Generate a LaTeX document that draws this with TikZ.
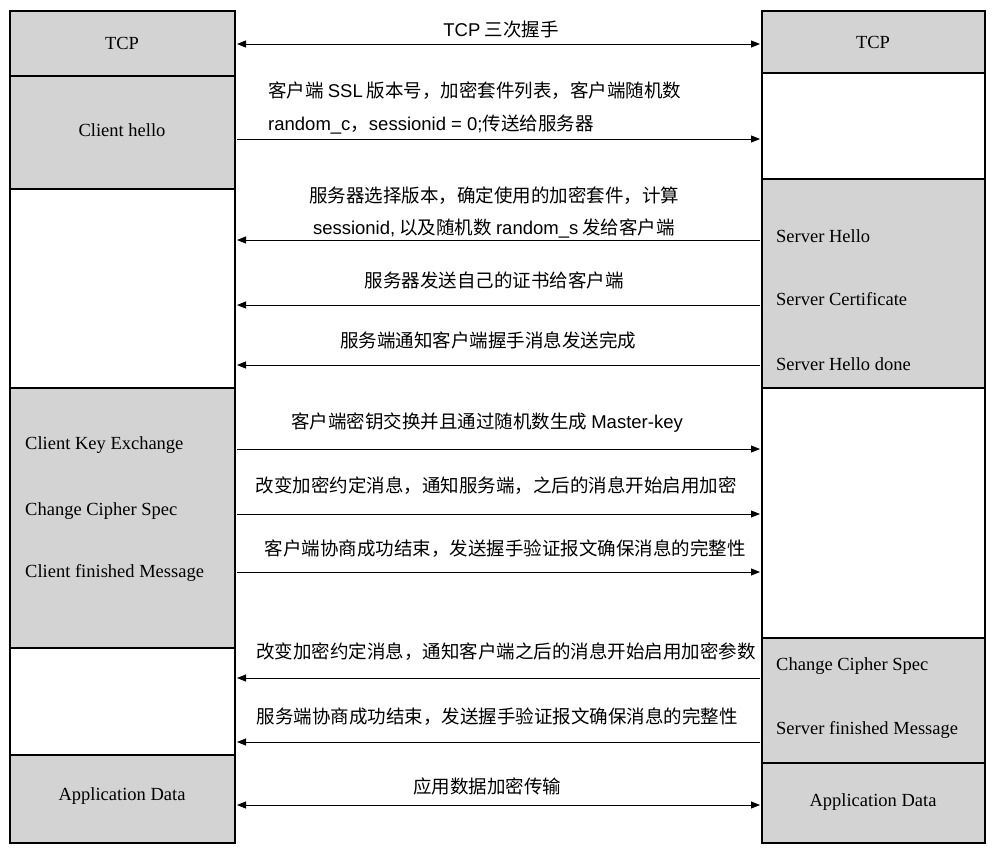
\documentclass[tikz,border=0pt]{standalone}
\usepackage{fontspec}
\setmainfont{Liberation Serif}
\newfontfamily\cjk{Noto Sans CJK SC}
\newfontfamily\lsans{Liberation Sans}
\usetikzlibrary{arrows.meta}
\definecolor{boxgray}{RGB}{212,211,212}
\begin{document}
\begin{tikzpicture}[x=1pt,y=-1pt,
  gbox/.style={draw=black,line width=1.2pt,fill=boxgray},
  wbox/.style={draw=black,line width=1.2pt,fill=white},
  msg/.style={line width=0.9pt,-{Triangle[length=9pt,width=7pt]}},
  bmsg/.style={line width=0.9pt,{Triangle[length=9pt,width=7pt]}-{Triangle[length=9pt,width=7pt]}},
  lbl/.style={font=\fontsize{18.5}{22}\selectfont\cjk,inner sep=0pt},
  en/.style={font=\fontsize{18.5}{22}\selectfont,inner sep=0pt}]
\useasboundingbox[fill=white] (0,0) rectangle (1000,855);
% left column
\draw[gbox] (10,11) rectangle (235,76);
\draw[gbox] (10,76) rectangle (235,189);
\draw[wbox] (10,189) rectangle (235,388);
\draw[gbox] (10,388) rectangle (235,648);
\draw[wbox] (10,648) rectangle (235,755);
\draw[gbox] (10,755) rectangle (235,843);
% right column
\draw[gbox] (762,11) rectangle (985,73);
\draw[wbox] (762,73) rectangle (985,179);
\draw[gbox] (762,179) rectangle (985,388);
\draw[wbox] (762,388) rectangle (985,638);
\draw[gbox] (762,638) rectangle (985,763);
\draw[gbox] (762,763) rectangle (985,843);
% left labels
\node[en] (ltcp) at (122,43) {TCP};
\node[en] (lch) at (122,130) {Client hello};
\node[en,anchor=west] (lcke) at (25,445) {Client Key Exchange};
\node[en,anchor=west] (lccs) at (25,511) {Change Cipher Spec};
\node[en,anchor=west] (lcfm) at (25,573) {Client finished Message};
\node[en] (lad) at (122,796) {Application Data};
% right labels
\node[en] (rtcp) at (873,42) {TCP};
\node[en,anchor=west] (rsh) at (776,236) {Server Hello};
\node[en,anchor=west] (rsc) at (776,299) {Server Certificate};
\node[en,anchor=west] (rshd) at (776,364) {Server Hello done};
\node[en,anchor=west] (rccs) at (776,666) {Change Cipher Spec};
\node[en,anchor=west] (rsfm) at (776,730) {Server finished Message};
\node[en] (rad) at (873,802) {Application Data};
% arrow endpoints
\foreach \n/\y in {a/44,b/139,c/240,d/305,e/365,f/449,g/514,h/572,i/678,j/742,k/805}{
  \coordinate (L\n) at (237,\y); \coordinate (R\n) at (760,\y);}
\draw[bmsg] (La) -- (Ra);
\draw[msg] (Lb) -- (Rb);
\draw[msg] (Rc) -- (Lc);
\draw[msg] (Rd) -- (Ld);
\draw[msg] (Re) -- (Le);
\draw[msg] (Lf) -- (Rf);
\draw[msg] (Lg) -- (Rg);
\draw[msg] (Lh) -- (Rh);
\draw[msg] (Ri) -- (Li);
\draw[msg] (Rj) -- (Lj);
\draw[bmsg] (Lk) -- (Rk);
% message labels
\node[lbl] (ta) at (501,30) {{\lsans TCP} 三次握手};
\node[lbl,anchor=west] (tb1) at (268,91) {客户端 {\lsans SSL} 版本号，加密套件列表，客户端随机数};
\node[lbl,anchor=west] (tb2) at (268,125) {{\lsans random\_c}，{\lsans sessionid = 0;}传送给服务器};
\node[lbl] (tc1) at (494,196) {服务器选择版本，确定使用的加密套件，计算};
\node[lbl] (tc2) at (494,228) {{\lsans sessionid,} 以及随机数 {\lsans random\_s} 发给客户端};
\node[lbl] (td) at (494,280) {服务器发送自己的证书给客户端};
\node[lbl] (te) at (488,340) {服务端通知客户端握手消息发送完成};
\node[lbl] (tf) at (487,423) {客户端密钥交换并且通过随机数生成 {\lsans Master-key}};
\node[lbl] (tg) at (496,486) {改变加密约定消息，通知服务端，之后的消息开始启用加密};
\node[lbl] (th) at (505,549) {客户端协商成功结束，发送握手验证报文确保消息的完整性};
\node[lbl] (ti) at (506,652) {改变加密约定消息，通知客户端之后的消息开始启用加密参数};
\node[lbl] (tj) at (497,717) {服务端协商成功结束，发送握手验证报文确保消息的完整性};
\node[lbl] (tk) at (487,786) {应用数据加密传输};
\end{tikzpicture}
\end{document}
